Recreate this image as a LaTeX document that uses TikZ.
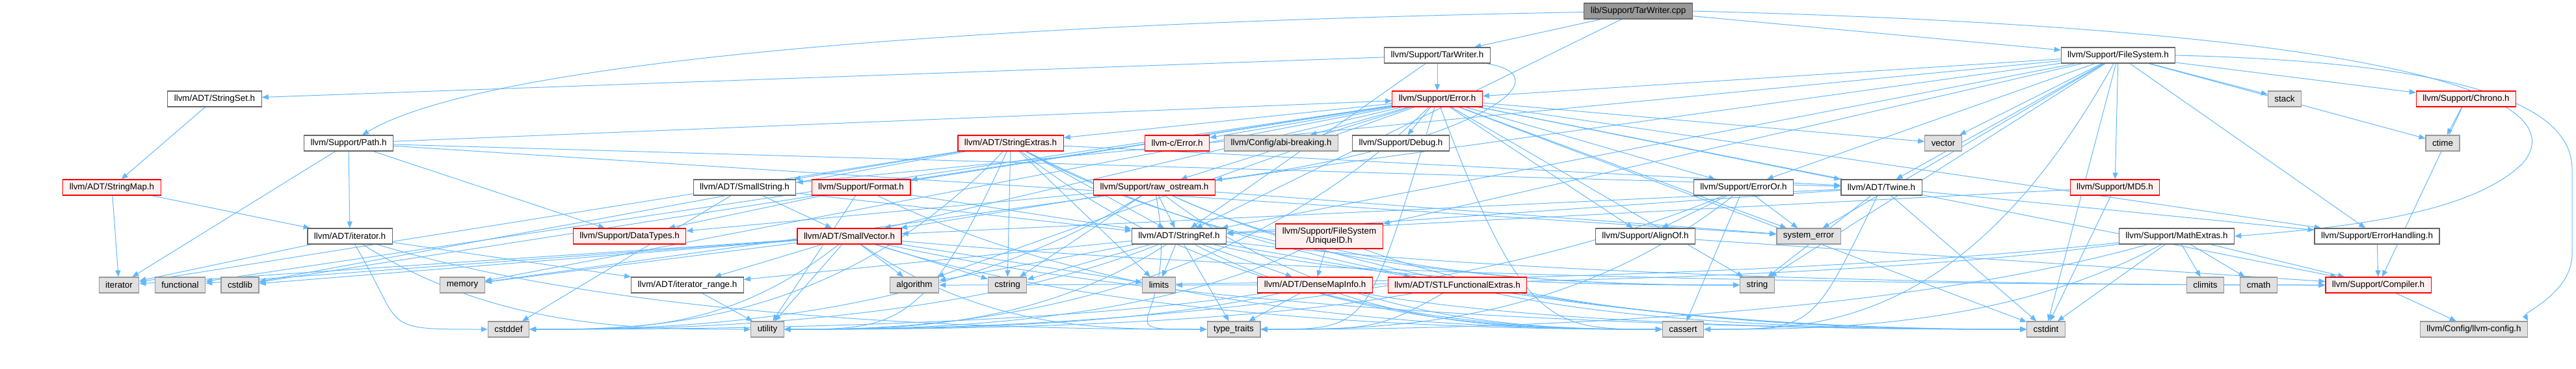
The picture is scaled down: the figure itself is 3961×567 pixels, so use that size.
\documentclass[tikz,border=0pt]{standalone}
\usepackage{fontspec}
\usetikzlibrary{arrows.meta,calc}
\newfontfamily\lsans{Liberation Sans}
\definecolor{edgeblue}{HTML}{63B8FF}
\definecolor{nodegray}{HTML}{666666}
\definecolor{redfill}{HTML}{FFF0F0}
\definecolor{grayfill}{HTML}{E0E0E0}
\definecolor{graybd}{HTML}{999999}
\definecolor{cppfill}{HTML}{999999}
\pgfdeclarelayer{bg}
\pgfsetlayers{bg,main}
\tikzset{
 nd/.style={draw=nodegray, fill=white, line width=1.2pt, minimum height=24pt, inner xsep=10pt, inner ysep=0pt, font=\lsans\fontsize{13.4}{15}\selectfont, text=black},
 rd/.style={nd, draw=red, fill=redfill},
 gy/.style={nd, draw=graybd, fill=grayfill},
 e/.style={draw=edgeblue, line width=1pt, -{Triangle[length=10pt,width=8pt]}}
}
% curved edge entering the target from its right / left side
\newcommand\ce[2]{\draw[e] (#1) .. controls ($(#1 |- #2)!0.35!(#2)$) and ([xshift=170pt]#2.east) .. (#2.east);}
\newcommand\cw[2]{\draw[e] (#1) .. controls ($(#1 |- #2)!0.35!(#2)$) and ([xshift=-170pt]#2.west) .. (#2.west);}
\begin{document}
\begin{tikzpicture}[x=1pt,y=-1pt]
\useasboundingbox (0,0) rectangle (3961,567);
% row 0
\node[nd, fill=cppfill] (cpp) at (2519,17) {lib/Support/TarWriter.cpp};
% row 1
\node[nd] (twh) at (2210,85) {llvm/Support/TarWriter.h};
\node[nd] (fs) at (3257,85) {llvm/Support/FileSystem.h};
% row 2
\node[nd] (sset) at (330,152) {llvm/ADT/StringSet.h};
\node[rd] (err) at (2210,152) {llvm/Support/Error.h};
\node[gy] (stack) at (3513,152) {stack};
\node[rd] (chrono) at (3792,152) {llvm/Support/Chrono.h};
% row 3
\node[nd] (path) at (536,220) {llvm/Support/Path.h};
\node[rd] (sext) at (1554,220) {llvm/ADT/StringExtras.h};
\node[rd] (cerr) at (1810,220) {llvm-c/Error.h};
\node[gy] (abi) at (1970,220) {llvm/Config/abi-breaking.h};
\node[nd] (debug) at (2154,220) {llvm/Support/Debug.h};
\node[gy] (vector) at (2988,220) {vector};
\node[gy] (ctime) at (3756,220) {ctime};
% row 4
\node[rd] (smap) at (172,288) {llvm/ADT/StringMap.h};
\node[nd] (sstr) at (1145,288) {llvm/ADT/SmallString.h};
\node[rd] (format) at (1324,288) {llvm/Support/Format.h};
\node[rd] (raw) at (1775,288) {llvm/Support/raw\_ostream.h};
\node[nd] (eor) at (2681,288) {llvm/Support/ErrorOr.h};
\node[nd] (twine) at (2893,288) {llvm/ADT/Twine.h};
\node[rd] (md5) at (3252,288) {llvm/Support/MD5.h};
% row 5
\node[nd] (itrh) at (538,363) {llvm/ADT/iterator.h};
\node[rd] (dtypes) at (968,363) {llvm/Support/DataTypes.h};
\node[rd] (svec) at (1306,363) {llvm/ADT/SmallVector.h};
\node[nd] (sref) at (1813,363) {llvm/ADT/StringRef.h};
\node[rd, minimum height=38pt, align=center, font=\lsans\fontsize{13.4}{14.5}\selectfont] (uid) at (2044,363) {llvm/Support/FileSystem\\/UniqueID.h};
\node[nd] (align) at (2530,363) {llvm/Support/AlignOf.h};
\node[gy] (syserr) at (2781,363) {system\_error};
\node[nd] (math) at (3347,363) {llvm/Support/MathExtras.h};
\node[nd] (ehand) at (3655,363) {llvm/Support/ErrorHandling.h};
% row 6
\node[gy] (iter) at (183,438) {iterator};
\node[gy] (func) at (277,438) {functional};
\node[gy] (cstdlib) at (369,438) {cstdlib};
\node[gy] (memory) at (711,438) {memory};
\node[nd] (irange) at (1057,438) {llvm/ADT/iterator\_range.h};
\node[gy] (algo) at (1406,438) {algorithm};
\node[gy] (cstring) at (1549,438) {cstring};
\node[gy] (limits) at (1782,438) {limits};
\node[rd] (dmi) at (2022,438) {llvm/ADT/DenseMapInfo.h};
\node[rd] (stlfe) at (2241,438) {llvm/ADT/STLFunctionalExtras.h};
\node[gy] (string) at (2702,438) {string};
\node[gy] (climits) at (3391,438) {climits};
\node[gy] (cmath) at (3473,438) {cmath};
\node[rd] (compiler) at (3657,438) {llvm/Support/Compiler.h};
% row 7
\node[gy] (cstddef) at (782,506) {cstddef};
\node[gy] (utility) at (1180,506) {utility};
\node[gy] (tt) at (1897,506) {type\_traits};
\node[gy] (cassert) at (2588,506) {cassert};
\node[gy] (cstdint) at (3146,506) {cstdint};
\node[gy] (lconf) at (3804,506) {llvm/Config/llvm-config.h};

\begin{pgfonlayer}{bg}
% TarWriter.cpp
\foreach \t in {twh,fs,sref} \draw[e] (cpp) -- (\t);
\draw[e] (cpp) .. controls (1300,40) and (720,110) .. (path);
\draw[e] (cpp.east) .. controls (3700,45) and (3960,150) .. (3880,250) .. controls (3800,330) and (3600,350) .. (math.east);
% TarWriter.h
\foreach \t in {sset,err,sref} \draw[e] (twh) -- (\t);
\draw[e] (twh) .. controls (2420,120) and (2240,230) .. (raw);
% StringSet / StringMap
\draw[e] (sset) -- (smap);
\foreach \t in {iter,itrh} \draw[e] (smap) -- (\t);
% FileSystem.h
\foreach \t in {sstr,sref,twine,chrono,err,ehand,eor,uid,md5,cstdint,ctime,memory,stack,string,syserr,vector} \draw[e] (fs) -- (\t);
\ce{fs}{cassert}
\draw[e] (fs.east) .. controls (3750,95) and (3955,150) .. (3955,260) -- (3955,390) .. controls (3955,450) and (3880,480) .. (lconf.north east);
% Error.h
\foreach \t in {cerr,sext,abi,debug,svec,twine,align,compiler,ehand,eor,format,raw,cstdint,cstdlib,func,memory,string,syserr,vector,algo} \draw[e] (err) -- (\t);
\cw{err}{cassert}
\ce{err}{tt}
\ce{err}{utility}
% Path.h
\foreach \t in {itrh,dtypes,twine,err,iter,syserr} \draw[e] (path) -- (\t);
% iterator.h
\foreach \t in {irange,iter} \draw[e] (itrh) -- (\t);
\cw{itrh}{cstddef}
\cw{itrh}{utility}
\cw{itrh}{tt}
\draw[e] (irange) -- (utility);
% StringExtras.h
\foreach \t in {sstr,sref,twine,cstdlib,cstring,iter,limits} \draw[e] (sext) -- (\t);
\cw{sext}{string}
\cw{sext}{cassert}
\cw{sext}{cstdint}
\ce{sext}{cstddef}
\ce{sext}{utility}
% Format.h
\foreach \t in {dtypes,sref,utility} \draw[e] (format) -- (\t);
\cw{format}{cassert}
% raw_ostream.h
\foreach \t in {svec,sref,dtypes,cstring,syserr} \draw[e] (raw) -- (\t);
\cw{raw}{tt}
\cw{raw}{cassert}
\cw{raw}{cstdint}
\cw{raw}{string}
\ce{raw}{cstddef}
% SmallString.h
\foreach \t in {svec,sref,cstddef} \draw[e] (sstr) -- (\t);
% SmallVector.h
\foreach \t in {algo,cstdlib,cstring,func,iter,limits,memory,utility,irange} \draw[e] (svec) -- (\t);
\cw{svec}{tt}
\cw{svec}{cassert}
\cw{svec}{cstdint}
\cw{svec}{compiler}
\ce{svec}{cstddef}
% StringRef.h
\foreach \t in {dmi,stlfe,irange,algo,cstring,limits,tt} \draw[e] (sref) -- (\t);
\cw{sref}{string}
\cw{sref}{cassert}
\cw{sref}{compiler}
\ce{sref}{cstddef}
\ce{sref}{utility}
% ErrorOr.h
\foreach \t in {align,cassert,syserr} \draw[e] (eor) -- (\t);
\ce{eor}{tt}
\ce{eor}{utility}
\draw[e] (align) -- (compiler);
% Twine.h
\foreach \t in {svec,sref,ehand,cstdint,string} \draw[e] (twine) -- (\t);
\ce{twine}{cassert}
% UniqueID.h
\draw[e] (uid) -- (dmi);
\cw{uid}{cstdint}
\ce{uid}{utility}
% DenseMapInfo.h
\draw[e] (dmi) -- (tt);
\cw{dmi}{cassert}
\cw{dmi}{cstdint}
\ce{dmi}{cstddef}
\ce{dmi}{utility}
% STLFunctionalExtras.h
\ce{stlfe}{tt}
\ce{stlfe}{utility}
\cw{stlfe}{cstdint}
% MD5.h
\draw[e] (md5) -- (sref);
\draw[e] (md5) -- (cstdint);
% MathExtras.h
\foreach \t in {compiler,climits,cmath,cstdint} \draw[e] (math) -- (\t);
\ce{math}{cassert}
\ce{math}{tt}
\ce{math}{limits}
\ce{math}{algo}
% others
\draw[e] (ehand) -- (compiler);
\foreach \t in {compiler,ctime} \draw[e] (chrono) -- (\t);
\draw[e] (compiler) -- (lconf);
\end{pgfonlayer}
\end{tikzpicture}
\end{document}
